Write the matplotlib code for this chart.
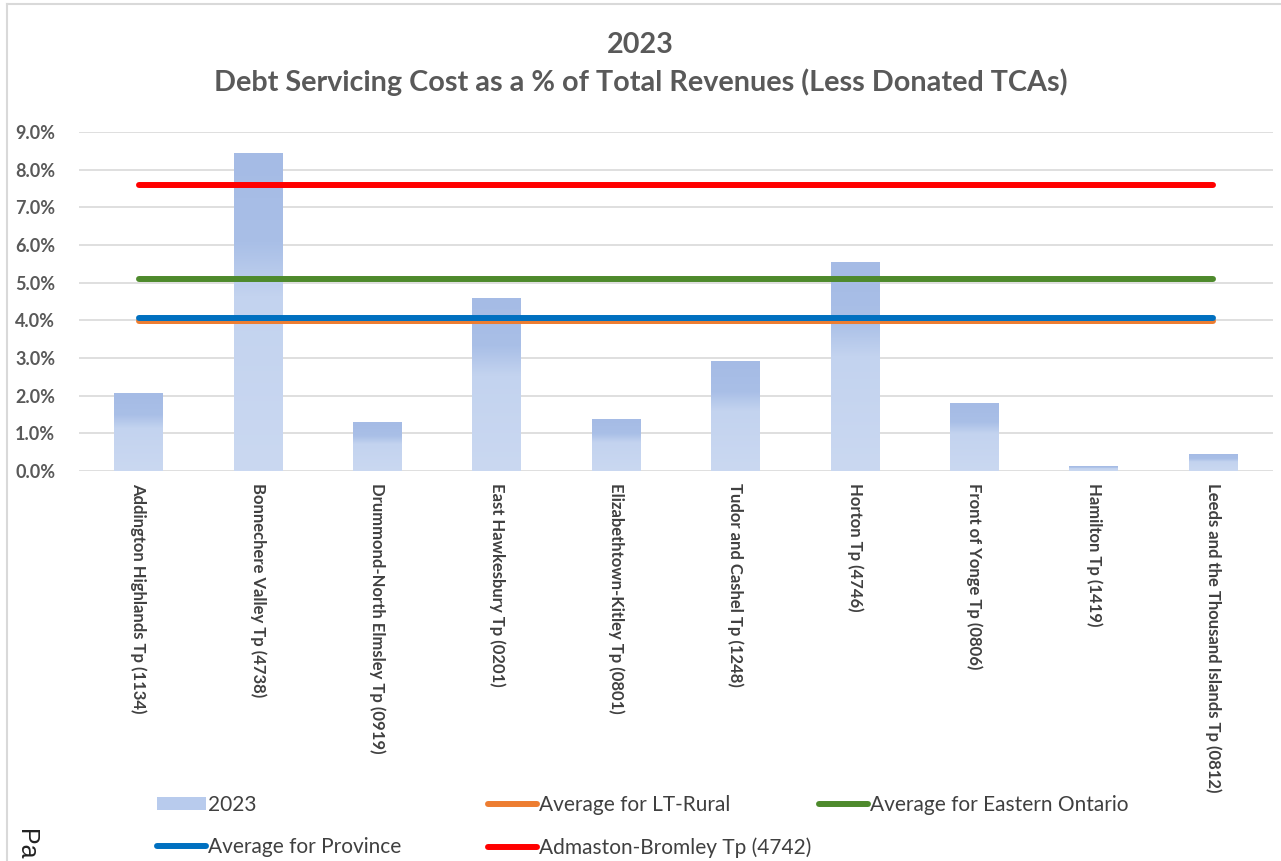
import numpy as np
import matplotlib
matplotlib.use("Agg")
import matplotlib.pyplot as plt
from matplotlib.colors import LinearSegmentedColormap
from matplotlib.lines import Line2D
from matplotlib.patches import Patch

##### DATA #####

municipalities = [
    "Addington Highlands Tp (1134)",
    "Bonnechere Valley Tp (4738)",
    "Drummond-North Elmsley Tp (0919)",
    "East Hawkesbury Tp (0201)",
    "Elizabethtown-Kitley Tp (0801)",
    "Tudor and Cashel Tp (1248)",
    "Horton Tp (4746)",
    "Front of Yonge Tp (0806)",
    "Hamilton Tp (1419)",
    "Leeds and the Thousand Islands Tp (0812)",
]
values_2023 = [2.07, 8.43, 1.30, 4.60, 1.38, 2.92, 5.54, 1.80, 0.13, 0.45]

avg_lt_rural = 3.99
avg_eastern_ontario = 5.10
avg_province = 4.05
admaston_bromley = 7.58

##### STYLE #####

grey_text = "#595959"
dark_text = "#404040"
c_orange = "#ed7d31"
c_green = "#4e8a2c"
c_blue = "#0070c0"
c_red = "#ff0000"

bar_cmap = LinearSegmentedColormap.from_list(
    "bar", [(0.0, "#cad8f1"), (0.55, "#c3d3ef"), (0.72, "#a9bfe7"), (1.0, "#a5bbe5")])

fig = plt.figure(figsize=(12.81, 8.61), dpi=100)
fig.patch.set_facecolor("white")

ax = fig.add_axes([79 / 1281, 1 - 471 / 861, (1273 - 79) / 1281, (471 - 132) / 861])

x = np.arange(len(municipalities))
bar_w = 0.41
bars = ax.bar(x, values_2023, width=bar_w, color="#b8cbed", zorder=2)

# gradient fill inside each bar (darker at the top)
grad = np.linspace(0, 1, 256).reshape(-1, 1)
for b in bars:
    im = ax.imshow(grad, cmap=bar_cmap, aspect="auto", origin="lower",
                   extent=(b.get_x(), b.get_x() + b.get_width(), 0, b.get_height()),
                   zorder=2.5)
    im.set_clip_path(b)

line_kw = dict(solid_capstyle="round", zorder=3)
ax.plot(x, [avg_lt_rural] * len(x), color=c_orange, lw=4.3, **line_kw)
ax.plot(x, [avg_province] * len(x), color=c_blue, lw=4.3, **line_kw)
ax.plot(x, [avg_eastern_ontario] * len(x), color=c_green, lw=4.3, **line_kw)
ax.plot(x, [admaston_bromley] * len(x), color=c_red, lw=4.3, **line_kw)

ax.set_xlim(-0.5, len(x) - 0.5)
ax.set_ylim(0, 9)
ax.set_yticks(np.arange(0, 9.01, 1))
ax.set_yticklabels([f"{v:.1f}%" for v in np.arange(0, 9.01, 1)],
                   fontfamily="Lato", fontweight="bold", fontsize=13, color=grey_text)
ax.set_xticks(x)
ax.set_xticklabels(municipalities, rotation=-90, va="top", ha="center",
                   fontfamily="Lato", fontweight="bold", fontsize=12, color=dark_text)
ax.tick_params(axis="both", length=0)
ax.tick_params(axis="y", pad=17)
ax.tick_params(axis="x", pad=9)
ax.grid(axis="y", color="#d9d9d9", lw=1.2, zorder=0)
ax.set_axisbelow(True)
for s in ax.spines.values():
    s.set_visible(False)

# title
fig.text(0.5, 1 - 45 / 861, "2023", ha="center", va="center",
         fontfamily="Lato", fontweight="bold", fontsize=20.7, color=grey_text)
fig.text(0.5, 1 - 82 / 861, "Debt Servicing Cost as a % of Total Revenues (Less Donated TCAs)",
         ha="center", va="center", fontfamily="Lato", fontweight="bold",
         fontsize=20.7, color=grey_text)

# legend, built one column at a time
h_2023 = Patch(facecolor="#b8cbed", edgecolor="none")
h_lt = Line2D([], [], color=c_orange, lw=4.3, solid_capstyle="round")
h_eo = Line2D([], [], color=c_green, lw=4.3, solid_capstyle="round")
h_pr = Line2D([], [], color=c_blue, lw=4.3, solid_capstyle="round")
h_ab = Line2D([], [], color=c_red, lw=4.3, solid_capstyle="round")

columns = [
    (157, [h_2023, h_pr], ["2023", "Average for Province"]),
    (488, [h_lt, h_ab], ["Average for LT-Rural", "Admaston-Bromley Tp (4742)"]),
    (819, [h_eo], ["Average for Eastern Ontario"]),
]
for xpx, hs, labs in columns:
    fig.legend(hs, labs, loc="upper left", bbox_to_anchor=(xpx / 1281, 1 - 795 / 861),
               frameon=False, borderpad=0, borderaxespad=0, handlelength=2.35,
               handleheight=0.6, handletextpad=0.12, labelspacing=1.06,
               prop={"family": "Lato", "size": 15}, labelcolor=dark_text)

# page border fragments and cut-off page text
fig.add_artist(Line2D([7 / 1281, 7 / 1281], [0, 1 - 4 / 861], color="#d9d9d9", lw=1.5))
fig.add_artist(Line2D([7 / 1281, 1], [1 - 4 / 861, 1 - 4 / 861], color="#d9d9d9", lw=1.5))
fig.text(14 / 1281, 1 - 829 / 861, "Pa", rotation=-90, ha="left", va="top",
         fontfamily="Liberation Sans", fontsize=18, color="#222222")

fig.savefig("out.png", dpi=100)
